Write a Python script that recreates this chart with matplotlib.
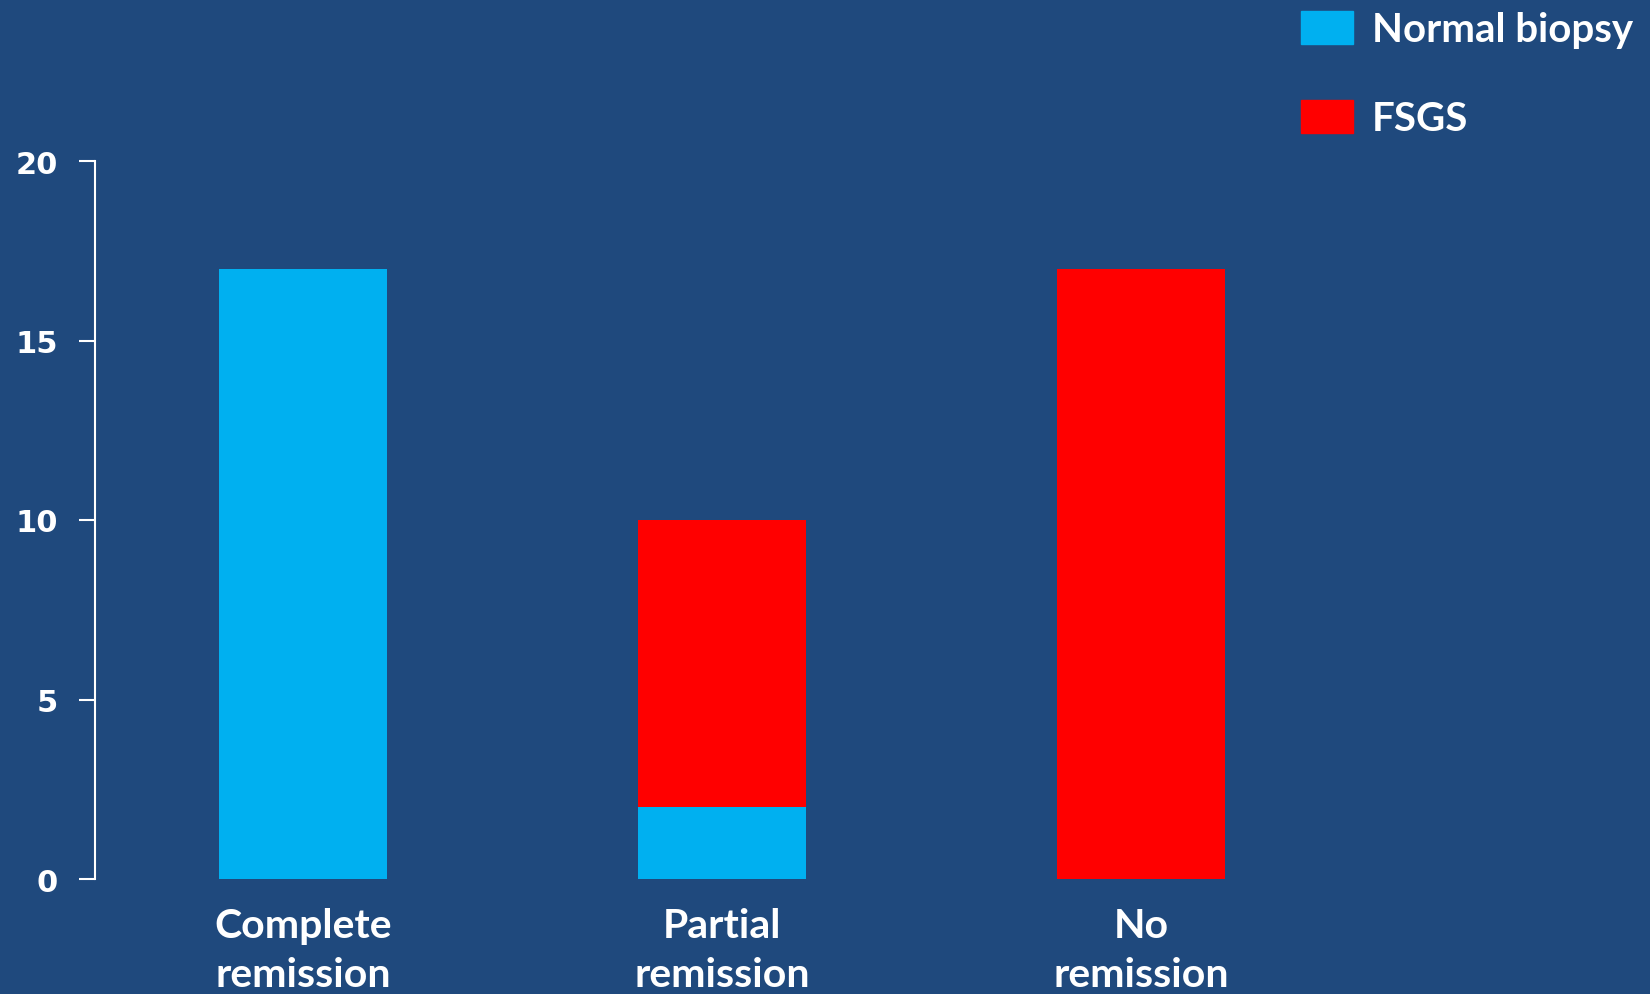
import matplotlib.pyplot as plt
from matplotlib.patches import Patch

categories = ["Complete\nremission", "Partial\nremission", "No\nremission"]
normal_biopsy = [17, 2, 0]
fsgs = [0, 8, 17]

bg = "#1F497D"
blue = "#00B0F0"
red = "#FF0000"

fig = plt.figure(figsize=(16.5, 9.95), dpi=100, facecolor=bg)
ax = fig.add_axes([95 / 1650, 1 - 880 / 995, (1560 - 95) / 1650, (880 - 162) / 995])
ax.set_facecolor(bg)

x = range(len(categories))
ax.bar(x, normal_biopsy, width=0.4, color=blue, label="Normal biopsy")
ax.bar(x, fsgs, width=0.4, bottom=normal_biopsy, color=red, label="FSGS")

ax.set_ylim(0, 20)
ax.set_yticks([0, 5, 10, 15, 20])
ax.set_xlim(-208 / 419, 2 + 419 / 419)
ax.set_xticks(list(x))
ax.set_xticklabels(categories, fontfamily="Lato", fontweight="bold",
                   fontsize=29.5, color="white", linespacing=1.4)

for s in ["top", "right", "bottom"]:
    ax.spines[s].set_visible(False)
ax.spines["left"].set_color("white")
ax.spines["left"].set_linewidth(1.5)

ax.tick_params(axis="y", colors="white", length=11.5, width=1.5, pad=15,
               labelsize=22)
for lab in ax.get_yticklabels():
    lab.set_fontweight("heavy")
ax.tick_params(axis="x", length=0, pad=20)

handles = [Patch(color=blue), Patch(color=red)]
leg = fig.legend(handles, ["Normal biopsy", "FSGS"],
                 loc="upper left", bbox_to_anchor=(1285 / 1650, 1 + 4 / 995),
                 frameon=False, handlelength=1.3, handleheight=0.88,
                 handletextpad=0.45, labelspacing=1.27, borderaxespad=0,
                 prop={"family": "Lato", "weight": "bold", "size": 29})
for t in leg.get_texts():
    t.set_color("white")

fig.savefig("out.png", facecolor=bg)
